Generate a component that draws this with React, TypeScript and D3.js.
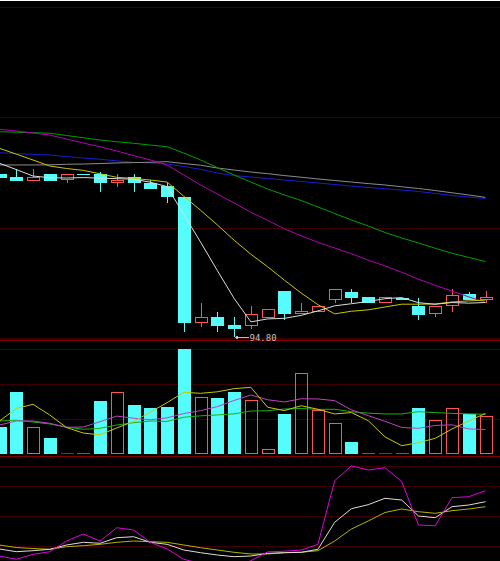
import React from 'react';
import * as d3 from 'd3';

const W = 500;
const H = 561;

// Daily candles (price)
const opens = [108.64, 108.41, 108.09, 108.64, 108.13, 108.64, 108.66, 107.9, 108.41, 107.92, 107.62, 106.68, 96.04, 96.52, 95.82, 95.76, 96.46, 98.7, 96.75, 96.92, 97.94, 98.67, 98.19, 97.71, 98.16, 97.46, 96.75, 97.46, 98.45, 97.94];
const highs = [108.64, 109.09, 109.09, 108.64, 108.64, 108.64, 108.83, 108.64, 108.64, 108.15, 107.92, 106.68, 97.69, 96.97, 96.5, 97.46, 97.24, 98.7, 97.69, 97.46, 98.87, 98.9, 98.19, 98.19, 98.16, 98.16, 97.46, 98.9, 98.67, 98.7];
const lows = [108.35, 108.09, 108.09, 108.09, 107.9, 108.55, 107.11, 107.58, 107.11, 107.36, 106.17, 95.27, 95.7, 95.27, 94.8, 95.5, 96.46, 96.27, 96.75, 96.92, 97.69, 97.69, 97.71, 97.71, 97.94, 96.27, 96.5, 96.97, 97.94, 97.69];
const closes = [108.35, 108.09, 108.41, 108.09, 108.64, 108.55, 107.87, 108.18, 107.87, 107.36, 106.68, 95.99, 96.52, 95.76, 95.53, 96.75, 97.24, 96.75, 97.01, 97.46, 98.87, 98.16, 97.71, 98.19, 97.94, 96.72, 97.46, 98.42, 97.94, 98.19];

// Price moving averages
const ma5 = [109.57, 109.04, 108.49, 108.35, 108.32, 108.36, 108.31, 108.27, 108.22, 107.97, 107.59, 105.22, 102.88, 100.46, 98.1, 96.11, 96.36, 96.41, 96.66, 97.04, 97.47, 97.65, 97.84, 98.08, 98.17, 97.74, 97.6, 97.75, 97.7, 97.75];
const ma10 = [110.84, 110.35, 109.85, 109.34, 109.13, 108.97, 108.68, 108.38, 108.29, 108.15, 107.98, 106.77, 105.58, 104.34, 103.04, 101.85, 100.79, 99.65, 98.56, 97.57, 96.79, 97.01, 97.13, 97.37, 97.61, 97.61, 97.63, 97.8, 97.89, 97.96];
const ma20 = [112.46, 112.31, 112.14, 111.97, 111.63, 111.29, 110.98, 110.61, 110.23, 109.85, 109.43, 108.58, 107.73, 106.96, 106.2, 105.41, 104.73, 104.01, 103.42, 102.86, 102.38, 101.89, 101.35, 100.86, 100.32, 99.73, 99.21, 98.72, 98.23, 97.77];
const ma30 = [112.25, 112.21, 112.17, 112.12, 111.93, 111.74, 111.55, 111.4, 111.27, 111.12, 110.98, 110.44, 109.85, 109.21, 108.58, 107.98, 107.39, 106.88, 106.41, 105.86, 105.31, 104.76, 104.25, 103.7, 103.23, 102.81, 102.36, 101.94, 101.58, 101.23];
const ma60 = [109.43, 109.43, 109.43, 109.44, 109.49, 109.51, 109.55, 109.6, 109.63, 109.66, 109.71, 109.55, 109.41, 109.17, 109.0, 108.83, 108.69, 108.53, 108.39, 108.24, 108.11, 107.98, 107.85, 107.73, 107.58, 107.43, 107.26, 107.07, 106.88, 106.68];
const ma120 = [110.47, 110.4, 110.33, 110.27, 110.15, 110.02, 109.91, 109.78, 109.66, 109.6, 109.51, 109.3, 109.06, 108.75, 108.53, 108.41, 108.28, 108.15, 108.03, 107.9, 107.77, 107.64, 107.52, 107.41, 107.3, 107.18, 107.01, 106.84, 106.71, 106.58];

// Volume and its moving averages
const volumes = [11000, 24800, 11000, 6600, 0, 0, 21200, 24900, 19600, 18500, 19000, 42000, 22800, 22600, 24800, 21700, 2100, 16100, 32400, 17700, 12400, 4800, 0, 0, 0, 18400, 13600, 18600, 16000, 15200];
const volMa5 = [13320, 18320, 20000, 15720, 10700, 8500, 7780, 10550, 13140, 16850, 20660, 24820, 24390, 25000, 26260, 26790, 18820, 17480, 19430, 18020, 16150, 16690, 13460, 6980, 3440, 4640, 6400, 10130, 13330, 16370];
const volMa10 = [11720, 13320, 13320, 12400, 10800, 10920, 13040, 15280, 14440, 13780, 14580, 16300, 17470, 19070, 21550, 23720, 21820, 20940, 22220, 22140, 21470, 17750, 15470, 13210, 10730, 10400, 11540, 11800, 10160, 9900];
const volMa20 = [13320, 13640, 12920, 12120, 10920, 10000, 10400, 11720, 12640, 13320, 13150, 14810, 15400, 15740, 16180, 17320, 17430, 18110, 18330, 17960, 18020, 17020, 16470, 16140, 16140, 17060, 16680, 16370, 16190, 16020];

// KDJ
const kLine = [16.7, 14, 15, 16.4, 20.7, 23.4, 22.4, 28, 29, 23.4, 21.4, 15.7, 13, 10.7, 9, 9.7, 12.4, 13, 13.4, 16.4, 43.4, 57, 61, 67.4, 65.7, 49.7, 48, 59, 60.7, 64];
const dLine = [20.7, 18.2, 17.2, 16.4, 19, 20, 21.4, 23.4, 24.7, 24, 23.4, 20.7, 18, 15.7, 13.4, 11.7, 11.7, 13, 13.4, 15, 24.7, 36.7, 44.7, 53.2, 56.7, 54, 52.4, 55, 56.7, 59];
const jLine = [9.7, 6.4, 11.4, 14, 24.7, 31.7, 24.7, 38, 35.7, 23.4, 16.7, 6.4, 2, 0.5, -1, 5, 13.8, 14.5, 15.7, 21.4, 85, 99.8, 95.7, 98, 84, 40.7, 40, 68, 69, 75];
const kdjGrid = [20, 50, 80, 100];

const UP = '#ff5454';
const DOWN = '#54fcfc';
const GRID = '#3c0000';
const FRAME = '#800000';

export default function App() {
  const n = closes.length;
  const x = d3.scaleLinear().domain([0, n - 1]).range([-0.5, 485.5]);
  const yP = d3.scaleLinear().domain([94.74, 122.84]).range([338, 7]);
  const yV = d3.scaleLinear().domain([0, 42000]).range([454.3, 349.3]);
  const yK = d3.scaleLinear().domain([0, 100]).range([565.7, 465.7]);

  const cx = (i: number) => Math.round(x(i));
  const px = (v: number) => Math.round(v) + 0.5;

  const lineOf = (ys: (v: number) => number) =>
    d3.line<number>().x((_, i) => x(i)).y((v) => ys(v));
  const pLine = lineOf(yP);
  const vLine = lineOf(yV);
  const kLineGen = lineOf(yK);

  const [pLo, pHi] = yP.domain();
  const priceGrid = d3.range(4).map((k) => pLo + (k * (pHi - pLo)) / 3);
  const volGrid = d3.range(1, 4).map((k) => (k * 42000) / 3);

  const lowIdx = d3.minIndex(lows);
  const lowX = cx(lowIdx) + 1.5;
  const lowY = px(yP(lows[lowIdx]));

  return (
    <div style={{ position: 'absolute', left: 0, top: 0 }}>
      <svg width={W} height={H} style={{ display: 'block', background: '#000' }}>
        <rect x={0} y={0} width={W} height={H} fill="#000" />
        <rect x={0} y={0} width={W} height={1} fill="#ffffff" />

        {/* grid and panel frames */}
        <g shapeRendering="crispEdges" strokeWidth={1}>
          {priceGrid.map((v, k) => (
            <line key={'pg' + k} x1={0} x2={W} y1={px(yP(v))} y2={px(yP(v))} stroke={GRID} />
          ))}
          <line x1={0} x2={W} y1={340.5} y2={340.5} stroke={FRAME} />
          {volGrid.map((v, k) => (
            <line key={'vg' + k} x1={0} x2={W} y1={px(yV(v))} y2={px(yV(v))} stroke={GRID} />
          ))}
          <line x1={0} x2={W} y1={456.5} y2={456.5} stroke={FRAME} />
          {kdjGrid.map((v, k) => (
            <line key={'kg' + k} x1={0} x2={W} y1={px(yK(v))} y2={px(yK(v))} stroke={GRID} />
          ))}
        </g>

        {/* candles */}
        <g shapeRendering="crispEdges">
          {closes.map((c, i) => {
            const o = opens[i];
            const up = c > o;
            const c0 = cx(i);
            const top = Math.round(yP(Math.max(o, c)));
            const bot = Math.round(yP(Math.min(o, c)));
            const hi = Math.round(yP(highs[i]));
            const lo = Math.round(yP(lows[i]));
            if (up) {
              return (
                <g key={'c' + i} stroke={UP} fill="none">
                  {hi < top && <line x1={c0 + 0.5} x2={c0 + 0.5} y1={hi} y2={top} />}
                  {lo > bot && <line x1={c0 + 0.5} x2={c0 + 0.5} y1={bot} y2={lo} />}
                  <rect x={c0 - 5.5} y={top + 0.5} width={12} height={Math.max(1, bot - top - 1)} />
                </g>
              );
            }
            return (
              <g key={'c' + i}>
                <line x1={c0 + 0.5} x2={c0 + 0.5} y1={hi} y2={lo} stroke={DOWN} />
                <rect x={c0 - 6} y={top} width={13} height={Math.max(1, bot - top)} fill={DOWN} />
              </g>
            );
          })}
        </g>

        {/* price moving averages */}
        <g fill="none" strokeWidth={1}>
          <path d={pLine(ma120) || ''} stroke="#1c1cd0" />
          <path d={pLine(ma60) || ''} stroke="#8c8c8c" />
          <path d={pLine(ma30) || ''} stroke="#00a000" />
          <path d={pLine(ma20) || ''} stroke="#b400b4" />
          <path d={pLine(ma10) || ''} stroke="#c8c800" />
          <path d={pLine(ma5) || ''} stroke="#dcdcdc" />
        </g>

        {/* lowest price marker */}
        <g stroke="#c0c0c0" fill="none" strokeWidth={1} shapeRendering="crispEdges">
          <line x1={lowX} x2={lowX + 13} y1={lowY} y2={lowY} />
          <line x1={lowX} x2={lowX + 3} y1={lowY} y2={lowY - 2} />
          <line x1={lowX} x2={lowX + 3} y1={lowY} y2={lowY + 2} />
        </g>
        <text
          x={lowX + 14}
          y={lowY + 3}
          fill="#c0c0c0"
          fontFamily="'DejaVu Sans Mono', monospace"
          fontSize={9}
        >
          {lows[lowIdx].toFixed(2)}
        </text>

        {/* volume bars */}
        <g shapeRendering="crispEdges">
          {volumes.map((v, i) => {
            const up = closes[i] >= opens[i];
            const c0 = cx(i);
            const top = Math.round(yV(v));
            const base = Math.round(yV(0));
            if (v === 0) {
              return (
                <rect key={'v' + i} x={c0 - 6} y={base - 1} width={13} height={1} fill={up ? '#803030' : '#2a7a7a'} />
              );
            }
            if (up) {
              return (
                <rect key={'v' + i} x={c0 - 5.5} y={top + 0.5} width={12} height={base - top - 1} fill="none" stroke={UP} />
              );
            }
            return <rect key={'v' + i} x={c0 - 6} y={top} width={13} height={base - top} fill={DOWN} />;
          })}
        </g>

        {/* volume moving averages */}
        <g fill="none" strokeWidth={1}>
          <path d={vLine(volMa20) || ''} stroke="#18b018" />
          <path d={vLine(volMa10) || ''} stroke="#c040c0" />
          <path d={vLine(volMa5) || ''} stroke="#c8c800" />
        </g>

        {/* KDJ */}
        <g fill="none" strokeWidth={1}>
          <path d={kLineGen(dLine) || ''} stroke="#b4b400" />
          <path d={kLineGen(kLine) || ''} stroke="#dcdcdc" />
          <path d={kLineGen(jLine) || ''} stroke="#e000e0" />
        </g>
      </svg>
    </div>
  );
}
